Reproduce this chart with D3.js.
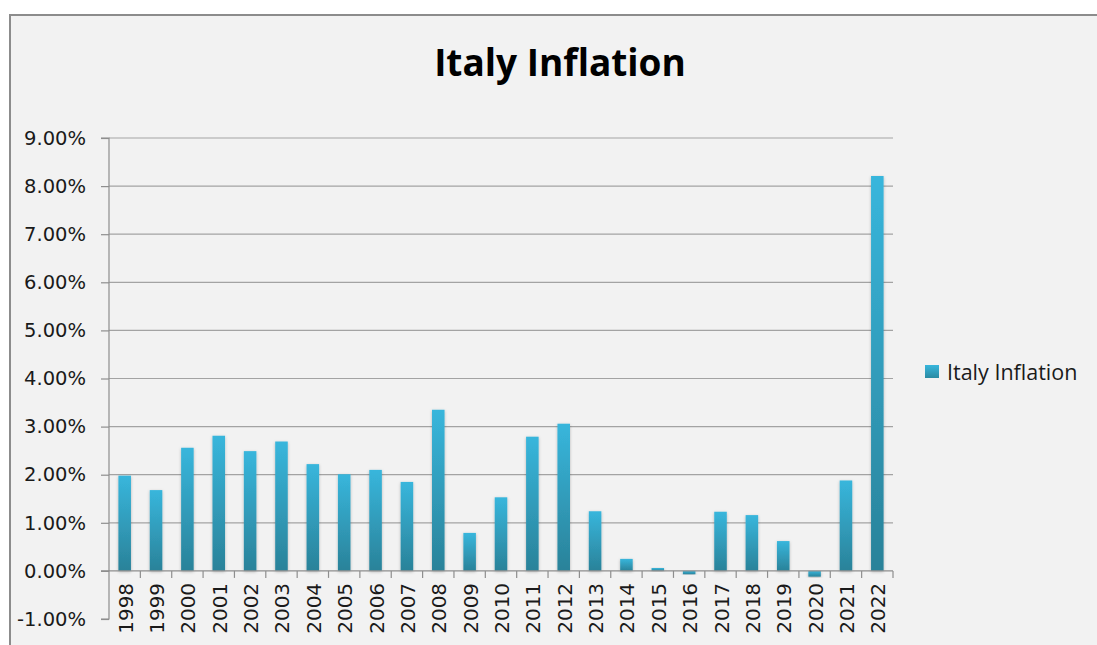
<!DOCTYPE html>
<html>
<head>
<meta charset="utf-8">
<script src="https://cdn.jsdelivr.net/npm/d3@7/dist/d3.min.js"></script>
<style>
  html, body { margin: 0; padding: 0; background: #ffffff; }
  svg { display: block; }
  text { font-variant-ligatures: none; }
</style>
</head>
<body>
<svg id="chart" width="1097" height="645"></svg>
<script>
// Annual inflation rate, Italy (percent)
const years = ["1998","1999","2000","2001","2002","2003","2004","2005","2006","2007","2008","2009","2010",
               "2011","2012","2013","2014","2015","2016","2017","2018","2019","2020","2021","2022"];
const inflation = [1.98, 1.68, 2.56, 2.81, 2.49, 2.69, 2.22, 2.01, 2.10, 1.85, 3.35, 0.79, 1.53,
                   2.79, 3.06, 1.24, 0.25, 0.06, -0.07, 1.23, 1.16, 0.62, -0.12, 1.88, 8.21];
const yTicks = [-1, 0, 1, 2, 3, 4, 5, 6, 7, 8, 9];
const seriesName = "Italy Inflation";
const chartTitle = "Italy Inflation";

const svg = d3.select("#chart");
const W = 1097, H = 645;

// chart area background with frame
svg.append("rect").attr("x", 10).attr("y", 15).attr("width", W).attr("height", H)
  .attr("fill", "#f2f2f2").attr("stroke", "#8c8c8c").attr("stroke-width", 2);

const plot = { left: 109, right: 893, top: 138, bottom: 619 };

const y = d3.scaleLinear().domain([-1, 9]).range([plot.bottom, plot.top]);
const xCat = d3.scaleBand().domain(years).range([plot.left, plot.right]).padding(0);
const xBar = d3.scaleBand().domain(years).range([plot.left, plot.right])
  .paddingInner(0.6).paddingOuter(0.3);

const defs = svg.append("defs");
const grad = defs.append("linearGradient").attr("id", "barGrad")
  .attr("x1", 0).attr("y1", 0).attr("x2", 0).attr("y2", 1);
grad.append("stop").attr("offset", "0%").attr("stop-color", "#38b6dc");
grad.append("stop").attr("offset", "100%").attr("stop-color", "#2a8299");

const gradLegend = defs.append("linearGradient").attr("id", "legGrad")
  .attr("x1", 0).attr("y1", 0).attr("x2", 0).attr("y2", 1);
gradLegend.append("stop").attr("offset", "0%").attr("stop-color", "#38b6dc");
gradLegend.append("stop").attr("offset", "100%").attr("stop-color", "#2a8aa2");

const shadow = defs.append("filter").attr("id", "barShadow")
  .attr("x", "-40%").attr("y", "-10%").attr("width", "180%").attr("height", "130%");
shadow.append("feDropShadow").attr("dx", 0).attr("dy", 1).attr("stdDeviation", 1.5)
  .attr("flood-color", "#000").attr("flood-opacity", 0.25);

// title
svg.append("text").attr("x", 560).attr("y", 76)
  .attr("text-anchor", "middle")
  .attr("font-family", "'Open Sans', Lato, sans-serif")
  .attr("font-weight", "bold").attr("font-size", 37).attr("fill", "#000")
  .text(chartTitle);

// horizontal gridlines
svg.append("g").selectAll("line")
  .data(yTicks.filter(t => t > 0))
  .join("line")
  .attr("x1", plot.left).attr("x2", plot.right)
  .attr("y1", d => y(d)).attr("y2", d => y(d))
  .attr("stroke", "#a3a3a3").attr("stroke-width", 1.2);

// y axis
const yAxis = d3.axisLeft(y).tickValues(yTicks)
  .tickFormat(d => d3.format(".2f")(d).replace("\u2212", "-") + "%").tickSize(8).tickPadding(15);
const gy = svg.append("g").attr("transform", `translate(${plot.left},0)`).call(yAxis);
gy.select(".domain").attr("stroke", "#8e8e8e").attr("stroke-width", 1.2)
  .attr("d", `M-8,${plot.top}H0V${plot.bottom}H-8`);
gy.selectAll(".tick line").attr("stroke", "#8e8e8e").attr("stroke-width", 1.2);
gy.selectAll(".tick text")
  .attr("font-family", "'DejaVu Sans', sans-serif").attr("font-size", 19.5)
  .attr("fill", "#1a1a1a");

// bars
svg.append("g").selectAll("rect")
  .data(years.map((yr, i) => ({ yr, v: inflation[i] })))
  .join("rect")
  .attr("x", d => xBar(d.yr))
  .attr("width", xBar.bandwidth())
  .attr("y", d => y(Math.max(0, d.v)))
  .attr("height", d => Math.abs(y(d.v) - y(0)))
  .attr("fill", "url(#barGrad)")
  .attr("filter", "url(#barShadow)");

// x axis at zero, ticks at category boundaries
const gx = svg.append("g");
gx.append("line").attr("x1", plot.left - 8).attr("x2", plot.right)
  .attr("y1", y(0)).attr("y2", y(0))
  .attr("stroke", "#8e8e8e").attr("stroke-width", 1.2);
gx.selectAll("line.b")
  .data(years)
  .join("line").attr("class", "b")
  .attr("x1", d => xCat(d) + xCat.bandwidth()).attr("x2", d => xCat(d) + xCat.bandwidth())
  .attr("y1", y(0)).attr("y2", y(0) + 7)
  .attr("stroke", "#8e8e8e").attr("stroke-width", 1.2);

// rotated year labels
gx.selectAll("text")
  .data(years)
  .join("text")
  .attr("transform", d => `translate(${xCat(d) + xCat.bandwidth() / 2 + 8},${y(0) + 12}) rotate(-90)`)
  .attr("text-anchor", "end")
  .attr("font-family", "'DejaVu Sans', sans-serif").attr("font-size", 20)
  .attr("fill", "#1a1a1a")
  .text(d => d);

// legend
const leg = svg.append("g").attr("transform", "translate(925,365)");
leg.append("rect").attr("width", 14).attr("height", 13).attr("fill", "url(#legGrad)");
leg.append("text").attr("x", 22).attr("y", 14.5)
  .attr("font-family", "'Open Sans', Lato, sans-serif").attr("font-size", 21.5)
  .attr("fill", "#1a1a1a").text(seriesName);
</script>
</body>
</html>
